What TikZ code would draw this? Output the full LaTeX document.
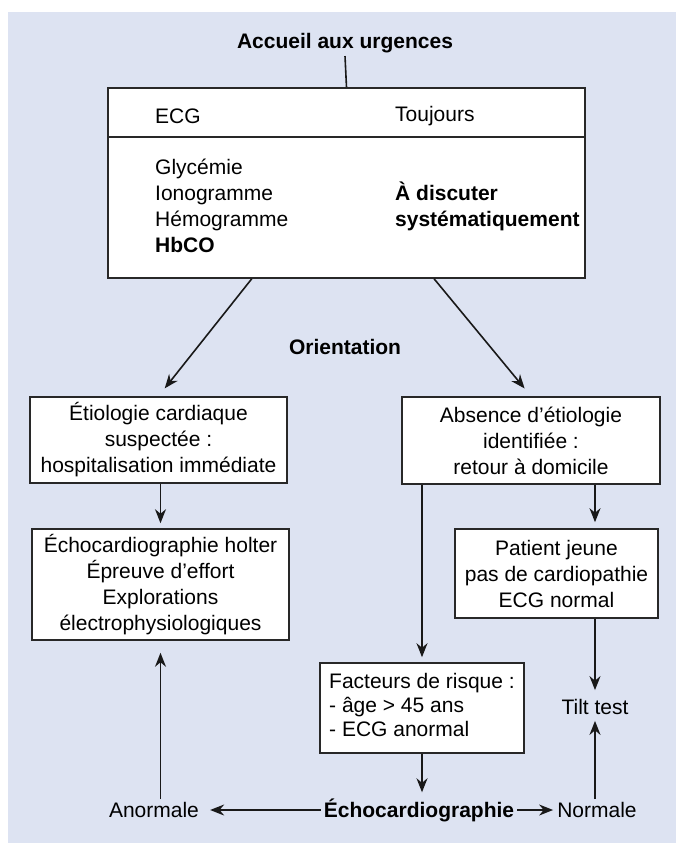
\documentclass[tikz,border=0pt]{standalone}
\usepackage{fontspec}
\setmainfont{Liberation Sans}
\usepackage{xcolor}
\usetikzlibrary{arrows.meta}
\usetikzlibrary{calc}

\definecolor{fond}{RGB}{221,227,242}
\definecolor{trait}{RGB}{40,40,40}

\tikzset{
    boite/.style={draw=trait,line width=1.6pt,fill=white,align=center,inner sep=0pt},
    texte/.style={inner sep=3pt},
    fleche/.style={line width=1.6pt,draw=black!90,-{Stealth[length=14pt,width=11pt]}},
}

\begin{document}
\begin{tikzpicture}[x=1pt,y=-1pt,font=\fontsize{21}{26}\selectfont]
        \useasboundingbox (0,0) rectangle (676,843);
        \fill[fond] (8,12) rectangle (676,843);

        % accueil et bilan
        \node[texte,font=\fontsize{21}{26}\selectfont\bfseries] (accueil) at (345,43) {Accueil aux urgences};
        \node[boite,minimum width=477pt,minimum height=190pt] (bilan) at (346.5,183) {};
        \coordinate (sep) at (0,137);
        \draw[draw=trait,line width=1.6pt] (bilan.west |- sep) -- (bilan.east |- sep);
        \node[texte,anchor=west] (ecg) at (152,116) {ECG};
        \node[texte,anchor=west] (toujours) at (392,116) {Toujours};
        \node[texte,anchor=base west] (examens) at (152,174) {\begin{tabular}[t]{@{}l@{}}Glycémie\\Ionogramme\\Hémogramme\\\textbf{HbCO}\end{tabular}};
        \node[texte,anchor=base west,font=\fontsize{21}{26}\selectfont\bfseries] (discuter) at (392,200.5) {\begin{tabular}[t]{@{}l@{}}À discuter\\systématiquement\end{tabular}};
        \draw[line width=1.6pt,draw=black!90] (accueil.south) -- (bilan.north);

        % orientation
        \node[texte,font=\fontsize{21}{26}\selectfont\bfseries] (orientation) at (345,347) {Orientation};
        \node[boite,minimum width=257pt,minimum height=86pt] (cardiaque) at (158.5,440) {Étiologie cardiaque\\suspectée :\\hospitalisation immédiate};
        \node[boite,minimum width=258pt,minimum height=87pt] (absence) at (531,440.5) {Absence d'étiologie\\identifiée :\\retour à domicile};
        \draw[fleche,shorten >=10pt] ($(bilan.south west)!0.302!(bilan.south east)$) -- (cardiaque.north);
        \draw[fleche,shorten >=10pt] ($(bilan.south west)!0.683!(bilan.south east)$) -- (absence.north);

        % examens complementaires
        \node[boite,minimum width=257pt,minimum height=111pt] (explorations) at (160.5,584.5) {Échocardiographie holter\\Épreuve d'effort\\Explorations\\électrophysiologiques};
        \node[boite,minimum width=203pt,minimum height=89pt] (jeune) at (556.5,573.5) {Patient jeune\\pas de cardiopathie\\ECG normal};
        \node[boite,minimum width=204pt,minimum height=90pt,font=\fontsize{21}{24}\selectfont] (facteurs) at (422,708) {\begin{tabular}{@{}l@{}}Facteurs de risque :\\- âge > 45 ans\\- ECG anormal\end{tabular}};
        \node[texte] (tilt) at (595,707) {Tilt test};

        % echographie
        \node[texte,font=\fontsize{21}{26}\selectfont\bfseries] (echo) at (419,810) {Échocardiographie};
        \node[texte] (anormale) at (154,810) {Anormale};
        \node[texte] (normale) at (597,810) {Normale};

        \draw[fleche,shorten >=5pt] (cardiaque.south -| explorations.north) -- (explorations.north);
        \draw[fleche,shorten >=6pt] (absence.south -| tilt) -- (jeune.north -| tilt);
        \draw[fleche,shorten >=5pt] (absence.south -| facteurs) -- (facteurs.north);
        \draw[fleche,shorten >=3pt] (facteurs.south) -- (facteurs.south |- echo.north);
        \draw[fleche,shorten >=8pt] (echo.west) -- (anormale.east);
        \draw[fleche,shorten >=1pt] (echo.east) -- (normale.west);
        \draw[fleche,shorten >=12pt] (anormale.north -| explorations.south) -- (explorations.south);
        \draw[fleche,shorten >=6pt] (jeune.south -| tilt) -- (tilt.north);
        \draw[fleche,shorten >=3pt] (normale.north -| tilt) -- (tilt.south);
    \end{tikzpicture}
\end{document}
